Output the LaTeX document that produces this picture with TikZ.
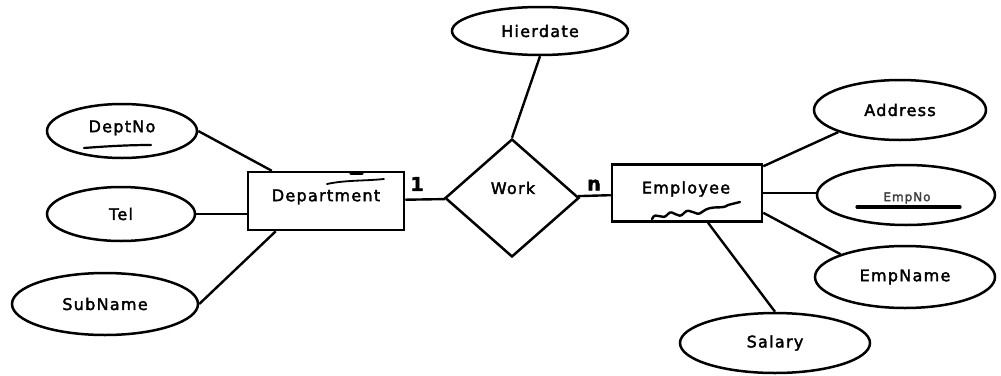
\documentclass[tikz,border=0pt]{standalone}
\usepackage{fontspec}
\setmainfont{DejaVu Sans}[LetterSpace=8,FakeBold=2.2]
\usetikzlibrary{shapes.geometric,calc}

\tikzset{
  every node/.style={font=\fontsize{16}{18}\selectfont},
  attr/.style={draw, ellipse, line width=2.5pt, inner sep=0pt},
  entity/.style={draw, rectangle, line width=2.5pt, inner sep=0pt},
  relation/.style={draw, diamond, line width=2.5pt, inner sep=0pt},
  link/.style={line width=2.4pt},
  card/.style={inner sep=0pt, font=\fontsize{19}{21}\selectfont\bfseries},
  penmark/.style={line width=2.4pt, line cap=round, line join=round}
}

\begin{document}
\begin{tikzpicture}[x=1pt,y=-1pt]
\useasboundingbox (0,0) rectangle (1001,375);

% entities and the relationship
\node[entity, minimum width=156pt, minimum height=58pt] (dept) at (326,201) {};
\node at (326,197) {Department};
\node[relation, minimum width=134pt, minimum height=118pt] (work) at (512,198) {};
\node at (513,188) {Work};
\node[entity, minimum width=150pt, minimum height=57pt] (emp) at (687,193) {};
\node at (686,189) {Employee};

% attributes of Department
\node[attr, minimum width=150pt, minimum height=54pt] (deptno) at (122,131) {};
\node at (122,128) {DeptNo};
\node[attr, minimum width=148pt, minimum height=54pt] (tel) at (121,214) {Tel};
\node[attr, minimum width=186pt, minimum height=62pt] (subname) at (105,304) {SubName};

% attribute of Work
\node[attr, minimum width=176pt, minimum height=48pt] (hier) at (540,31) {Hierdate};

% attributes of Employee
\node[attr, minimum width=172pt, minimum height=60pt] (address) at (900,110) {Address};
\node[attr, minimum width=178pt, minimum height=60pt] (empno) at (906,195) {};
\node[text=black!75, font=\fontsize{12}{14}\selectfont] at (907,198) {EmpNo};
\node[attr, minimum width=180pt, minimum height=62pt] (empname) at (905,277) {EmpName};
\node[attr, minimum width=190pt, minimum height=60pt] (salary) at (775,343) {Salary};

% cardinalities
\node[card] (one) at (417,184) {1};
\node[card] (many) at (594,185) {n};

% connectors
\draw[link] (dept) -- (work);
\draw[link] (work) -- (emp);
\draw[link] (hier.south) -- (work.north);
\draw[link] (deptno.east) -- ($(dept.north west)+(25,0)$);
\draw[link] (tel.east) -- (tel.east -| dept.west);
\draw[link] (subname.east) -- ($(dept.south west)+(29,0)$);
\draw[link] ($(emp.north east)+(0,3)$) -- (address.south west);
\draw[link] (emp.east) -- (emp.east -| empno.west);
\draw[link] ($(emp.south east)+(0,-10)$) -- (empname.north west);
\draw[link] ($(emp.south)+(21,0)$) -- (salary.north);

% key underlines
\draw[penmark, line width=2.2pt] (84,148) .. controls (110,146) and (130,145) .. (151,145);
\draw[penmark, line width=3.2pt] (857,207) -- (960,207);

% pen marks on the entity boxes
\draw[penmark, line width=1.8pt] (327,184) .. controls (345,180) and (365,181) .. (384,179);
\draw[penmark, line width=3.2pt] (351,173) -- (362,173);
\draw[penmark, line width=2.4pt] (652,219) .. controls (656,210) and (662,222) .. (668,214)
  .. controls (673,208) and (678,221) .. (684,213)
  .. controls (690,206) and (696,218) .. (702,212)
  .. controls (712,204) and (722,210) .. (728,205) -- (740,202);
\end{tikzpicture}
\end{document}
